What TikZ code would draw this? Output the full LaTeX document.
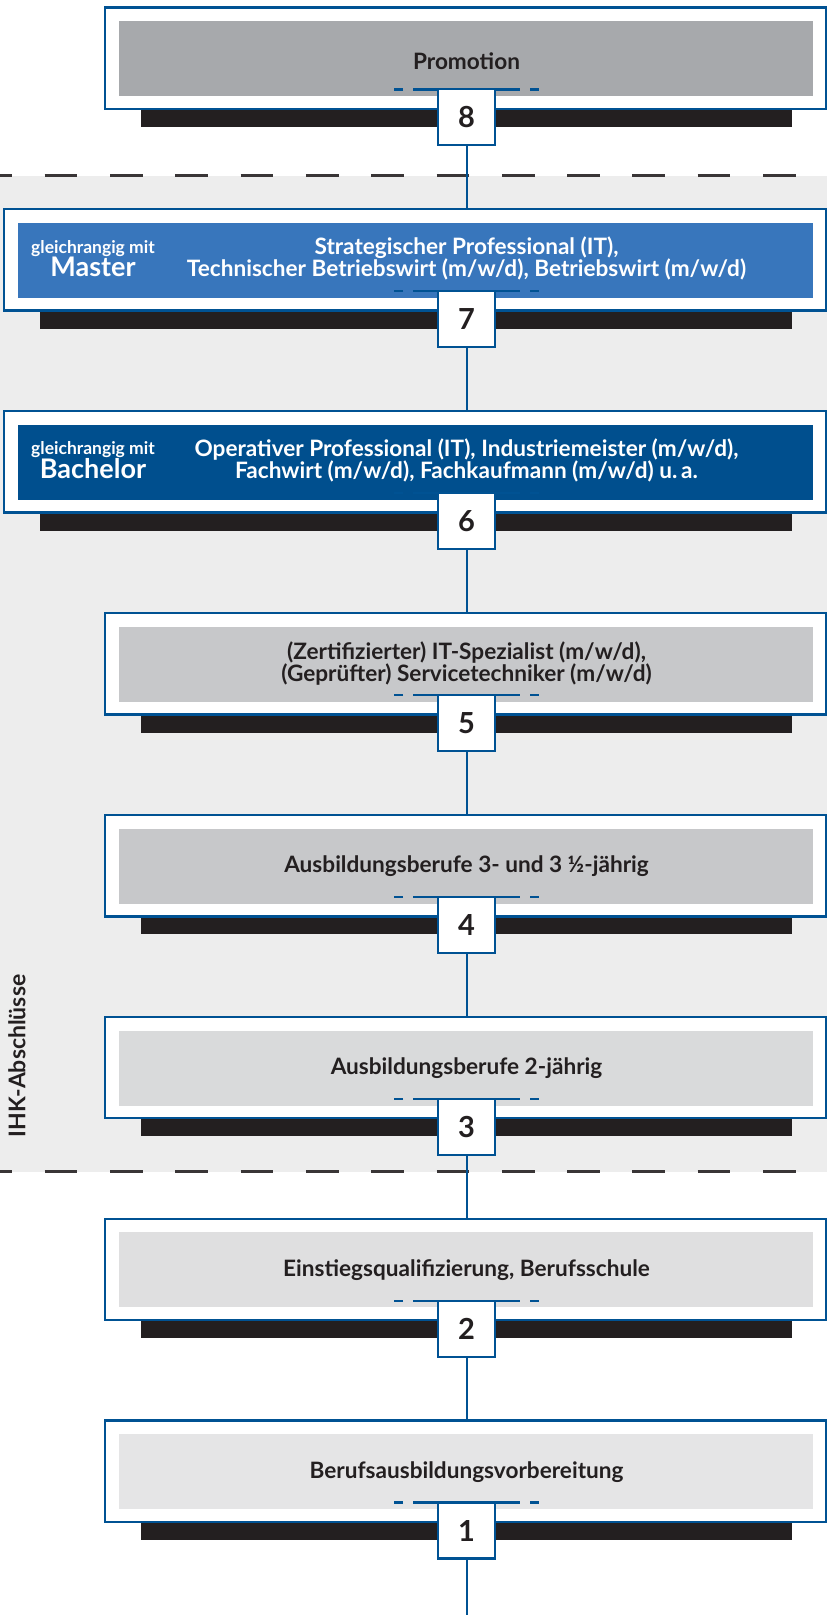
\documentclass[tikz,border=0pt]{standalone}
\usepackage{fontspec}
\setmainfont{Lato}
\usetikzlibrary{positioning}

\definecolor{ihkblau}{RGB}{0,82,147}
\definecolor{masterblau}{RGB}{56,118,188}
\definecolor{bachelorblau}{RGB}{0,79,142}
\definecolor{schwarz}{RGB}{35,31,32}
\definecolor{grau8}{RGB}{167,169,172}
\definecolor{grau5}{RGB}{199,200,202}
\definecolor{grau3}{RGB}{217,218,219}
\definecolor{grau2}{RGB}{223,223,224}
\definecolor{grau1}{RGB}{229,229,230}
\definecolor{hintergrund}{RGB}{237,237,237}

% eine Stufe: #1 Nummer, #2 Oberkante, #3 linker Rand, #4 Fuellfarbe
\newcommand{\stufe}[4]{%
  \fill[schatten] (#3+36,#2+95) rectangle (792,#2+119.5);
  \node[rahmen, minimum width={826-#3}] (box#1) at ({(826+#3)/2},#2+50.7) {};
  \node[feld, fill=#4, minimum width={799-#3}] (feld#1) at ({(827+#3)/2},#2+51.2) {};
  \node[nummer] (nr#1) at (466.5,#2+110) {#1};
  \draw[marke] (nr#1.north west) -- ++(-44,0);
  \draw[marke] (nr#1.north east) -- ++(44,0);
}

\begin{document}
\begin{tikzpicture}[x=1pt, y=-1pt,
    rahmen/.style={draw=ihkblau, fill=white, line width=2.4pt, minimum height=101.4pt, inner sep=0pt},
    feld/.style={draw=none, minimum height=75pt, inner sep=0pt},
    schatten/.style={fill=schwarz},
    nummer/.style={draw=ihkblau, fill=white, line width=2.3pt, minimum width=57pt, minimum height=56pt, inner sep=0pt, outer sep=0pt, text=schwarz, font=\bfseries\fontsize{29}{29}\selectfont},
    marke/.style={draw=ihkblau, line width=2.4pt, dash pattern=on 25.3pt off 9.7pt on 9pt off 20pt},
    titel/.style={align=center, inner sep=0pt, text=schwarz, font=\bfseries\fontsize{22.6}{22}\selectfont},
    klein/.style={inner sep=0pt, text=white, font=\bfseries\fontsize{17.5}{17.5}\selectfont},
    gross/.style={inner sep=0pt, text=white, font=\bfseries\fontsize{27}{27}\selectfont},
    verbindung/.style={draw=ihkblau, line width=2pt},
    trennlinie/.style={draw=schwarz!90, line width=2.5pt, dash pattern=on 32.7pt off 32.6pt, dash phase=20.6pt}]
    \useasboundingbox (0,0) rectangle (827,1615);

    %Hintergrund IHK-Abschluesse
    \fill[hintergrund] (0,175.7) rectangle (827,1171.7);
    \draw[trennlinie] (0,175.7) -- (827,175.7);
    \draw[trennlinie] (0,1171.7) -- (827,1171.7);
    \node[titel, rotate=90, font=\bfseries\fontsize{23}{23}\selectfont] (ihk) at (17,1056) {IHK-Abschlüsse};

    %Stufen
    \stufe{8}{7.3}{105}{grau8}
    \stufe{7}{209.2}{4}{masterblau}
    \stufe{6}{411.1}{4}{bachelorblau}
    \stufe{5}{613.0}{105}{grau5}
    \stufe{4}{814.9}{105}{grau5}
    \stufe{3}{1016.8}{105}{grau3}
    \stufe{2}{1218.7}{105}{grau2}
    \stufe{1}{1420.6}{105}{grau1}

    %Lines
    \coordinate (ende) at (466.5,1615);
    \foreach \a/\b in {8/7,7/6,6/5,5/4,4/3,3/2,2/1}
        \draw[verbindung] (nr\a.south) -- (nr\a.south |- box\b.north);
    \draw[verbindung] (nr1.south) -- (ende);

    %Texte
    \node[titel, anchor=base] (text8) at (466.5,69) {Promotion};
    \node[titel, text=white] (text7) at (466.5,258.7) {Strategischer Professional (IT),\\Technischer Betriebswirt (m/w/d), Betriebswirt (m/w/d)};
    \node[klein, anchor=base] (rang7) at (93,253) {gleichrangig mit};
    \node[gross, anchor=base] (stufe7) at (93,276.7) {Master};
    \node[titel, text=white] (text6) at (466.5,460.6) {Operativer Professional (IT), Industriemeister (m/w/d),\\Fachwirt (m/w/d), Fachkaufmann (m/w/d) u.\,a.};
    \node[klein, anchor=base] (rang6) at (93,454.9) {gleichrangig mit};
    \node[gross, anchor=base] (stufe6) at (93,478.6) {Bachelor};
    \node[titel] (text5) at (466.5,663.5) {(Zertifizierter) IT-Spezialist (m/w/d),\\(Geprüfter) Servicetechniker (m/w/d)};
    \node[titel, anchor=base] (text4) at (466.5,872.3) {Ausbildungsberufe 3- und 3 ½-jährig};
    \node[titel, anchor=base] (text3) at (466.5,1074.2) {Ausbildungsberufe 2-jährig};
    \node[titel, anchor=base] (text2) at (466.5,1276.1) {Einstiegsqualifizierung, Berufsschule};
    \node[titel, anchor=base] (text1) at (466.5,1478) {Berufsausbildungsvorbereitung};

\end{tikzpicture}
\end{document}
